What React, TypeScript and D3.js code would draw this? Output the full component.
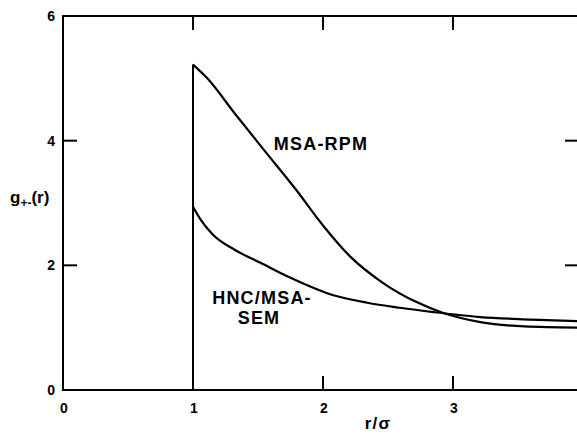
import { useEffect, useRef } from "react";
import * as d3 from "d3";

// MSA-RPM curve
const rMsa = [1, 1.11, 1.32, 1.55, 1.79, 2.0, 2.21, 2.46, 2.72, 2.92, 3.21, 3.55, 4.0];
const gMsa = [5.22, 5.0, 4.44, 3.84, 3.22, 2.64, 2.14, 1.72, 1.41, 1.24, 1.09, 1.02, 1.0];

// HNC/MSA-SEM curve
const rHnc = [1, 1.06, 1.15, 1.32, 1.52, 1.75, 2.08, 2.34, 2.59, 2.85, 3.21, 3.6, 4.0];
const gHnc = [2.94, 2.73, 2.5, 2.25, 2.04, 1.8, 1.52, 1.4, 1.32, 1.25, 1.17, 1.13, 1.1];

const xTicks = [0, 1, 2, 3, 4];
const yTicks = [0, 2, 4, 6];

const App = () => {
  const ref = useRef<SVGSVGElement>(null);

  useEffect(() => {
    if (!ref.current) return;
    const svg = d3.select(ref.current);
    svg.selectAll("*").remove();

    const x = d3.scaleLinear().domain([0, 4]).range([63, 583]);
    const y = d3.scaleLinear().domain([0, 6]).range([390, 16]);
    const font = "'Liberation Sans', Arial, sans-serif";

    // frame
    svg
      .append("path")
      .attr("d", `M${x(0)},${y(0)}V${y(6)}H${x(4)}V${y(0)}Z`)
      .attr("fill", "none")
      .attr("stroke", "#000")
      .attr("stroke-width", 2);

    // inward ticks
    const tickLen = 14;
    const g = svg.append("g").attr("stroke", "#000").attr("stroke-width", 2);
    xTicks
      .filter((t) => t > 0 && t < 4)
      .forEach((t) => {
        g.append("line").attr("x1", x(t)).attr("x2", x(t)).attr("y1", y(0)).attr("y2", y(0) - tickLen);
        g.append("line").attr("x1", x(t)).attr("x2", x(t)).attr("y1", y(6)).attr("y2", y(6) + tickLen);
      });
    yTicks
      .filter((t) => t > 0 && t < 6)
      .forEach((t) => {
        g.append("line").attr("x1", x(0)).attr("x2", x(0) + tickLen).attr("y1", y(t)).attr("y2", y(t));
        g.append("line").attr("x1", x(4)).attr("x2", x(4) - tickLen - 4).attr("y1", y(t)).attr("y2", y(t));
      });

    // tick labels
    svg
      .selectAll(".xl")
      .data(xTicks)
      .enter()
      .append("text")
      .attr("x", (d) => x(d) + 1)
      .attr("y", 413)
      .attr("text-anchor", "middle")
      .attr("font-family", font)
      .attr("font-weight", "bold")
      .attr("font-size", 14)
      .text((d) => String(d));
    svg
      .selectAll(".yl")
      .data(yTicks)
      .enter()
      .append("text")
      .attr("x", 55)
      .attr("y", (d) => y(d) + 5)
      .attr("text-anchor", "end")
      .attr("font-family", font)
      .attr("font-weight", "bold")
      .attr("font-size", 14)
      .text((d) => String(d));

    // curves
    const line = d3
      .line<[number, number]>()
      .x((d) => x(d[0]))
      .y((d) => y(d[1]))
      .curve(d3.curveMonotoneX);

    const msa: [number, number][] = rMsa.map((r, i) => [r, gMsa[i]]);
    const hnc: [number, number][] = rHnc.map((r, i) => [r, gHnc[i]]);

    svg
      .append("line")
      .attr("x1", x(1))
      .attr("x2", x(1))
      .attr("y1", y(0))
      .attr("y2", y(gMsa[0]))
      .attr("stroke", "#000")
      .attr("stroke-width", 2);

    [msa, hnc].forEach((pts) => {
      svg
        .append("path")
        .attr("d", line(pts))
        .attr("fill", "none")
        .attr("stroke", "#000")
        .attr("stroke-width", 2.2);
    });

    // labels
    const lab = (tx: number, ty: number, s: string, size = 18) =>
      svg
        .append("text")
        .attr("x", tx)
        .attr("y", ty)
        .attr("text-anchor", "middle")
        .attr("font-family", font)
        .attr("font-weight", "bold")
        .attr("font-size", size)
        .attr("letter-spacing", 1.2)
        .text(s);

    lab(321, 150, "MSA-RPM");
    lab(262, 304, "HNC/MSA-");
    lab(259, 324, "SEM");
    lab(378, 429, "r/σ", 17);

    const yl = svg
      .append("text")
      .attr("x", 10)
      .attr("y", 203)
      .attr("font-family", font)
      .attr("font-weight", "bold")
      .attr("font-size", 17);
    yl.append("tspan").text("g");
    yl.append("tspan").attr("font-size", 12).attr("dy", 4).text("+-");
    yl.append("tspan").attr("dy", -4).text("(r)");
  }, []);

  return (
    <svg
      ref={ref}
      width={577}
      height={435}
      style={{ position: "absolute", left: 0, top: 0, background: "#fff" }}
    ></svg>
  );
};

export default App;
